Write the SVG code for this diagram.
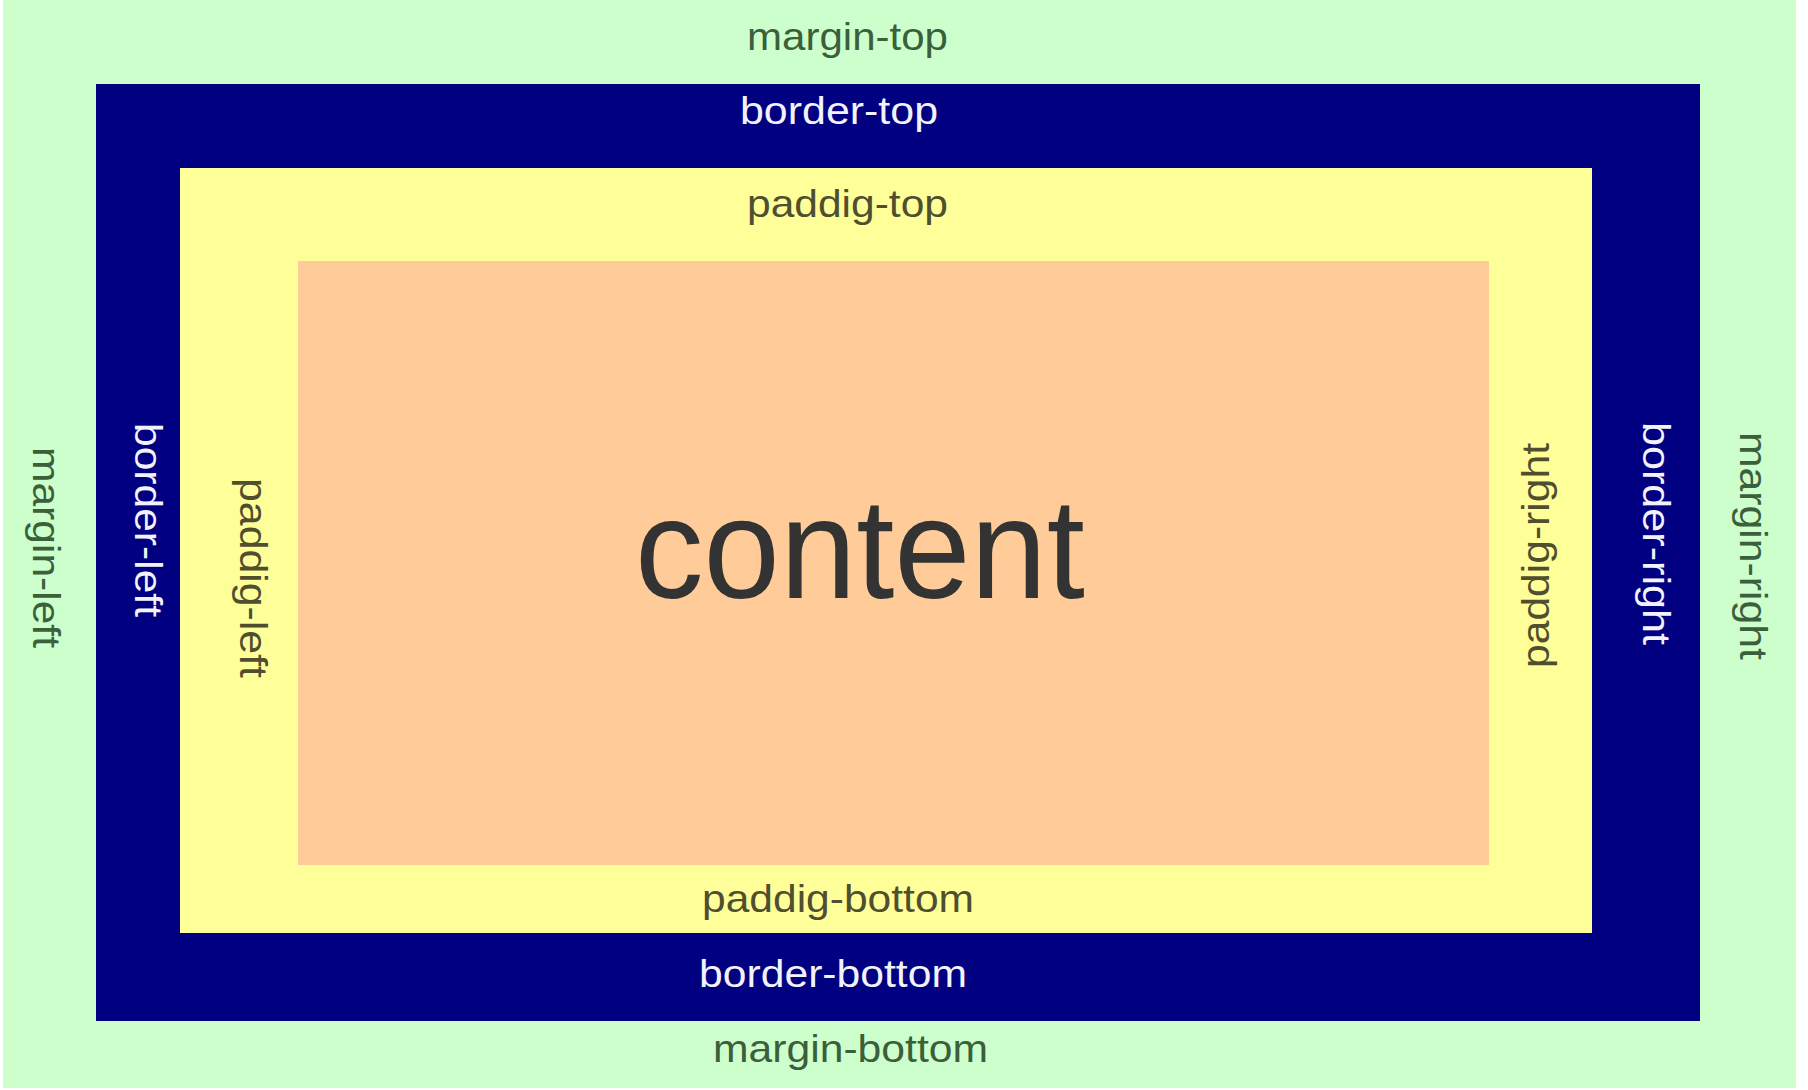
<svg xmlns="http://www.w3.org/2000/svg" width="1808" height="1090" viewBox="0 0 1808 1090">
  <style>
    text { font-family: "Liberation Sans", Arial, sans-serif; font-size: 39px; }
    .m { fill: #3b5e3b; }
    .b { fill: #f2f2fa; }
    .p { fill: #4f4f30; }
    .c { fill: #333333; font-size: 142px; }
  </style>
  <rect x="0" y="0" width="1808" height="1090" fill="#ffffff"/>
  <g id="margin">
    <rect x="3" y="0" width="1793" height="1088" fill="#ccffcc"/>
    <text class="m" x="747" y="50" textLength="201" lengthAdjust="spacingAndGlyphs">margin-top</text>
    <text class="m" x="713" y="1062" textLength="275" lengthAdjust="spacingAndGlyphs">margin-bottom</text>
    <text class="m" transform="translate(33,447) rotate(90)" x="0" y="0" textLength="201" lengthAdjust="spacingAndGlyphs">margin-left</text>
    <text class="m" transform="translate(1740,432) rotate(90)" x="0" y="0" textLength="228" lengthAdjust="spacingAndGlyphs">margin-right</text>
  </g>
  <g id="border">
    <rect x="96" y="84" width="1604" height="937" fill="#000080"/>
    <text class="b" x="740" y="124" textLength="198" lengthAdjust="spacingAndGlyphs">border-top</text>
    <text class="b" x="699" y="987" textLength="268" lengthAdjust="spacingAndGlyphs">border-bottom</text>
    <text class="b" transform="translate(135,423) rotate(90)" x="0" y="0" textLength="194" lengthAdjust="spacingAndGlyphs">border-left</text>
    <text class="b" transform="translate(1643,422) rotate(90)" x="0" y="0" textLength="223" lengthAdjust="spacingAndGlyphs">border-right</text>
  </g>
  <g id="padding">
    <rect x="180" y="168" width="1412" height="765" fill="#ffff99"/>
    <text class="p" x="747" y="217" textLength="201" lengthAdjust="spacingAndGlyphs">paddig-top</text>
    <text class="p" x="702" y="912" textLength="272" lengthAdjust="spacingAndGlyphs">paddig-bottom</text>
    <text class="p" transform="translate(240,478) rotate(90)" x="0" y="0" textLength="200" lengthAdjust="spacingAndGlyphs">paddig-left</text>
    <text class="p" transform="translate(1549,668) rotate(-90)" x="0" y="0" textLength="225" lengthAdjust="spacingAndGlyphs">paddig-right</text>
  </g>
  <g id="content">
    <rect x="298" y="261" width="1191" height="604" fill="#ffcc99"/>
    <text class="c" x="635" y="598" textLength="450" lengthAdjust="spacingAndGlyphs">content</text>
  </g>
</svg>
